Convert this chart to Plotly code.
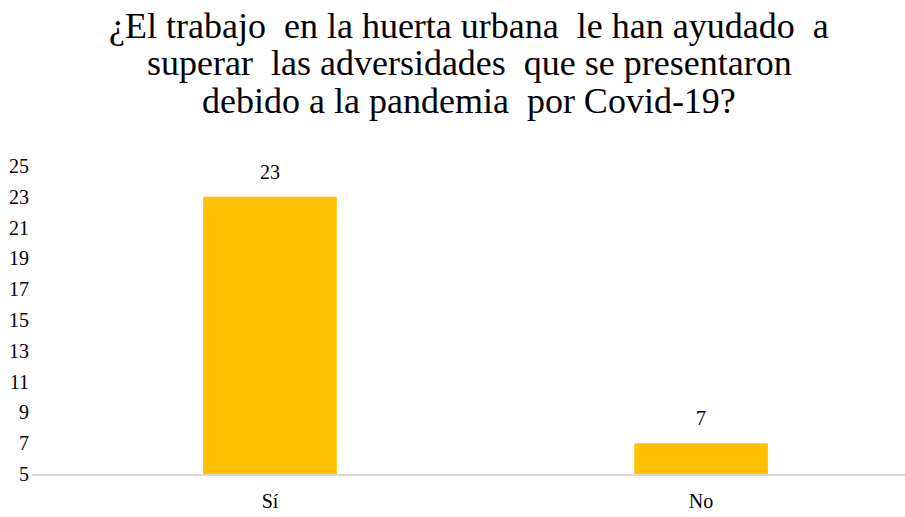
import plotly.graph_objects as go

categories = ["Sí", "No"]
values = [23, 7]
y_ticks = [5, 7, 9, 11, 13, 15, 17, 19, 21, 23, 25]
title_lines = [
    "¿El trabajo  en la huerta urbana  le han ayudado  a",
    "superar  las adversidades  que se presentaron",
    "debido a la pandemia  por Covid-19?",
]

font_family = "Liberation Serif, Times New Roman, serif"

fig = go.Figure()
fig.add_trace(go.Bar(
    x=categories,
    y=values,
    base=0,
    marker=dict(color="#FFC000", line=dict(width=0)),
    width=0.31,
    cliponaxis=False,
))

for cat, val in zip(categories, values):
    fig.add_annotation(
        x=cat, y=val, xref="x", yref="y",
        text=str(val), showarrow=False,
        yanchor="middle", yshift=25,
        font=dict(family=font_family, size=20, color="#000000"),
    )

line_centers = [26, 63, 101]
for line, yc in zip(title_lines, line_centers):
    fig.add_annotation(
        text=line.replace("  ", "&nbsp; "),
        xref="paper", yref="paper",
        x=(469 - 32) / 873, xanchor="center",
        y=1 + (166 - yc) / 308, yanchor="middle",
        showarrow=False,
        font=dict(family=font_family, size=36, color="#000000"),
    )

fig.update_layout(
    width=905,
    height=517,
    paper_bgcolor="white",
    plot_bgcolor="white",
    margin=dict(l=32, r=0, t=166, b=43),
    showlegend=False,
    font=dict(family=font_family, size=20, color="#000000"),
    xaxis=dict(
        type="category",
        range=[-0.552, 1.473],
        showline=True,
        linecolor="#D9D9D9",
        linewidth=2,
        showgrid=False,
        ticks="",
        tickfont=dict(family=font_family, size=20, color="#000000"),
        ticklabelstandoff=8,
    ),
    yaxis=dict(
        range=[5, 25],
        tickvals=y_ticks,
        showgrid=False,
        zeroline=False,
        showline=False,
        ticks="",
        tickfont=dict(family=font_family, size=20, color="#000000"),
        ticklabelstandoff=2,
    ),
)

fig.write_html(
    "out.html",
    config={"displayModeBar": False},
    post_script="document.body.style.margin='0';document.body.style.overflow='hidden';",
)
